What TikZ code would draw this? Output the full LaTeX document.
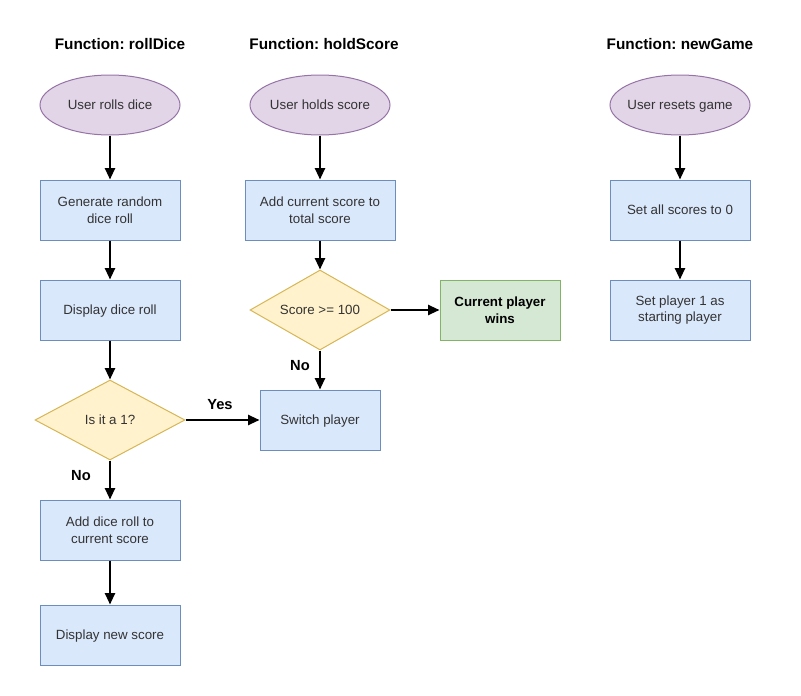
\documentclass[tikz,border=0pt]{standalone}
\usepackage{fontspec}
\setmainfont{Liberation Sans}
\frenchspacing
\usetikzlibrary{shapes.geometric,arrows.meta}
\definecolor{pfill}{HTML}{E1D5E7}\definecolor{pdraw}{HTML}{9673A6}
\definecolor{bfill}{HTML}{DAE8FC}\definecolor{bdraw}{HTML}{6C8EBF}
\definecolor{yfill}{HTML}{FFF2CC}\definecolor{ydraw}{HTML}{D6B656}
\definecolor{gfill}{HTML}{D5E8D4}\definecolor{gdraw}{HTML}{82B366}
\definecolor{txt}{HTML}{333333}
\begin{document}
\begin{tikzpicture}[x=0.75pt,y=-0.75pt,
  every node/.style={font=\fontsize{10pt}{12.5pt}\selectfont, text=txt, align=center, inner sep=0pt, line width=0.75pt},
  oneline/.style={text height=7.2pt, text depth=0pt},
  startnode/.style={ellipse, fill=pfill, draw=pdraw, inner xsep=-12pt, minimum width=105pt, minimum height=45pt, oneline},
  procbox/.style={rectangle, fill=bfill, draw=bdraw, minimum width=105pt, minimum height=45pt},
  decide/.style={diamond, aspect=1.875, fill=yfill, draw=ydraw, minimum width=112.5pt, minimum height=60pt, oneline},
  winbox/.style={rectangle, fill=gfill, draw=gdraw, minimum width=90pt, minimum height=45pt, font=\fontsize{10pt}{12.5pt}\selectfont\bfseries, text=black},
  title/.style={font=\fontsize{11.5pt}{13pt}\selectfont\bfseries, text=black, oneline},
  lbl/.style={font=\fontsize{11pt}{13pt}\selectfont\bfseries, text=black, oneline},
  flow/.style={draw=black, line width=1.5pt, -{Stealth[length=8.5pt,width=7.5pt,inset=0pt]}}
]
\useasboundingbox (0,0) rectangle (801,696);
% titles
\node[title] (t1) at (120,45) {Function: rollDice};
\node[title] (t2) at (324,45) {Function: holdScore};
\node[title] (t3) at (680,45) {Function: newGame};
% column 1
\node[startnode] (s1) at (110,105) {User rolls dice};
\node[procbox] (gen) at (110,210) {Generate random\\dice roll};
\node[procbox, oneline] (disp) at (110,310) {Display dice roll};
\node[decide] (one) at (110,420) {Is it a 1?};
\node[procbox] (add) at (110,530) {Add dice roll to\\current score};
\node[procbox, oneline] (news) at (110,635) {Display new score};
% column 2
\node[startnode] (s2) at (320,105) {User holds score};
\node[procbox, minimum width=112.5pt] (addt) at (320,210) {Add current score to\\total score};
\node[decide, minimum width=105pt, aspect=1.75] (hund) at (320,310) {Score >= 100};
\node[winbox] (win) at (500,310) {Current player\\wins};
\node[procbox, minimum width=90pt, oneline] (sw) at (320,420) {Switch player};
% column 3
\node[startnode] (s3) at (680,105) {User resets game};
\node[procbox, oneline] (set0) at (680,210) {Set all scores to 0};
\node[procbox] (set1) at (680,310) {Set player 1 as\\starting player};
% connectors
\draw[flow] (s1) -- (gen);
\draw[flow] (gen) -- (disp);
\draw[flow] (disp) -- (one);
\draw[flow] (one) -- (add);
\draw[flow] (add) -- (news);
\draw[flow] (one) -- (sw);
\draw[flow] (s2) -- (addt);
\draw[flow] (addt) -- (hund);
\draw[flow] (hund) -- (win);
\draw[flow] (hund) -- (sw);
\draw[flow] (s3) -- (set0);
\draw[flow] (set0) -- (set1);
% labels
\node[lbl] (yes) at (220,405) {Yes};
\node[lbl] (no1) at (81,476) {No};
\node[lbl] (no2) at (300,366) {No};
\end{tikzpicture}
\end{document}
